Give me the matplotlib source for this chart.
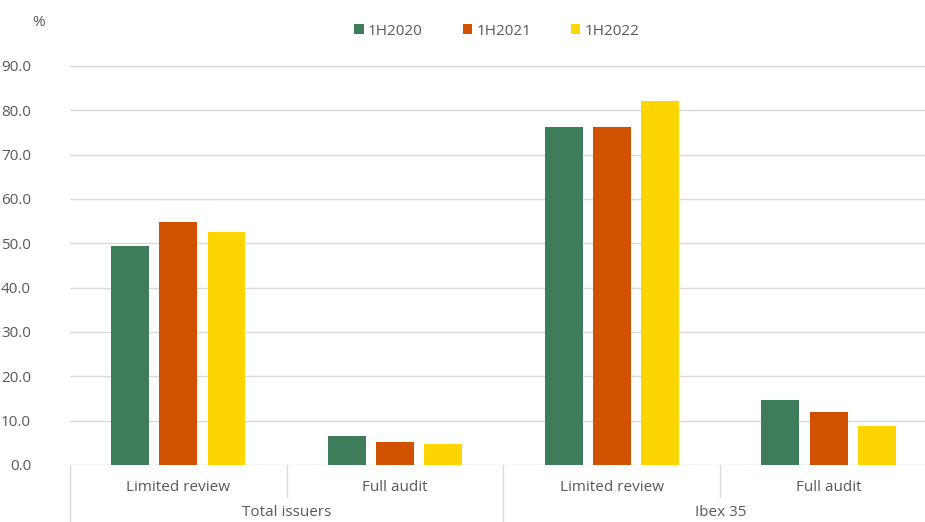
import matplotlib.pyplot as plt
import matplotlib.transforms as mtransforms
import numpy as np

plt.rcParams['font.family'] = ['Open Sans', 'DejaVu Sans']

# data
groups = ['Total issuers', 'Ibex 35']
categories = ['Limited review', 'Full audit', 'Limited review', 'Full audit']
series = ['1H2020', '1H2021', '1H2022']
v2020 = [49.4, 6.5, 76.2, 14.7]
v2021 = [54.8, 5.2, 76.2, 12.0]
v2022 = [52.6, 4.7, 82.1, 8.8]
colors = ['#3d7d5a', '#d05200', '#ffd500']
yticks = np.arange(0, 100, 10)

txt = '#595959'
grid = '#d9d9d9'

fig = plt.figure(figsize=(9.25, 5.22), dpi=100)
ax = fig.add_axes([70/925, 57/522, 1 - 70/925, 407.9/522])

x = np.arange(len(categories))
w = 0.175
offs = [-0.222, 0.0, 0.222]
for vals, off, c, lab in zip([v2020, v2021, v2022], offs, colors, series):
    ax.bar(x + off, vals, width=w, color=c, label=lab, zorder=3)

ax.set_xlim(-0.5, 3.445)
ax.set_ylim(0, 92)
ax.set_yticks(yticks)
ax.set_yticklabels(['%.1f' % t for t in yticks])
ax.tick_params(axis='y', length=0, pad=28, labelsize=11, labelcolor=txt)
ax.tick_params(axis='x', length=0, labelbottom=False)
ax.grid(True, axis='y', color=grid, linewidth=1, zorder=0)
for s in ax.spines.values():
    s.set_visible(False)

# '%' label above the value axis
ax.text(-0.037, 1.086, '%', transform=ax.transAxes, ha='center', va='center',
        fontsize=11, color=txt)

# category axis with two levels
trans = mtransforms.blended_transform_factory(ax.transData, ax.transAxes)
for i, c in enumerate(categories):
    ax.text(i, -0.054, c, transform=trans, ha='center', va='center',
            fontsize=11, color=txt)
for j, g in enumerate(groups):
    ax.text(2 * j + 0.5, -0.117, g, transform=trans, ha='center', va='center',
            fontsize=11, color=txt)
for xd in [-0.5, 1.5]:
    ax.plot([xd, xd], [0, -0.2], transform=trans, color=grid, lw=1, clip_on=False)
for xd in [0.5, 2.5]:
    ax.plot([xd, xd], [0, -0.0785], transform=trans, color=grid, lw=1, clip_on=False)

leg = fig.legend(loc='center', bbox_to_anchor=(497/925, 1 - 31/522), ncol=3,
                 frameon=False, fontsize=11, handlelength=0.6, handleheight=0.6,
                 handletextpad=0.3, columnspacing=2.6)
for t in leg.get_texts():
    t.set_color(txt)

fig.savefig('out.png', dpi=100)
